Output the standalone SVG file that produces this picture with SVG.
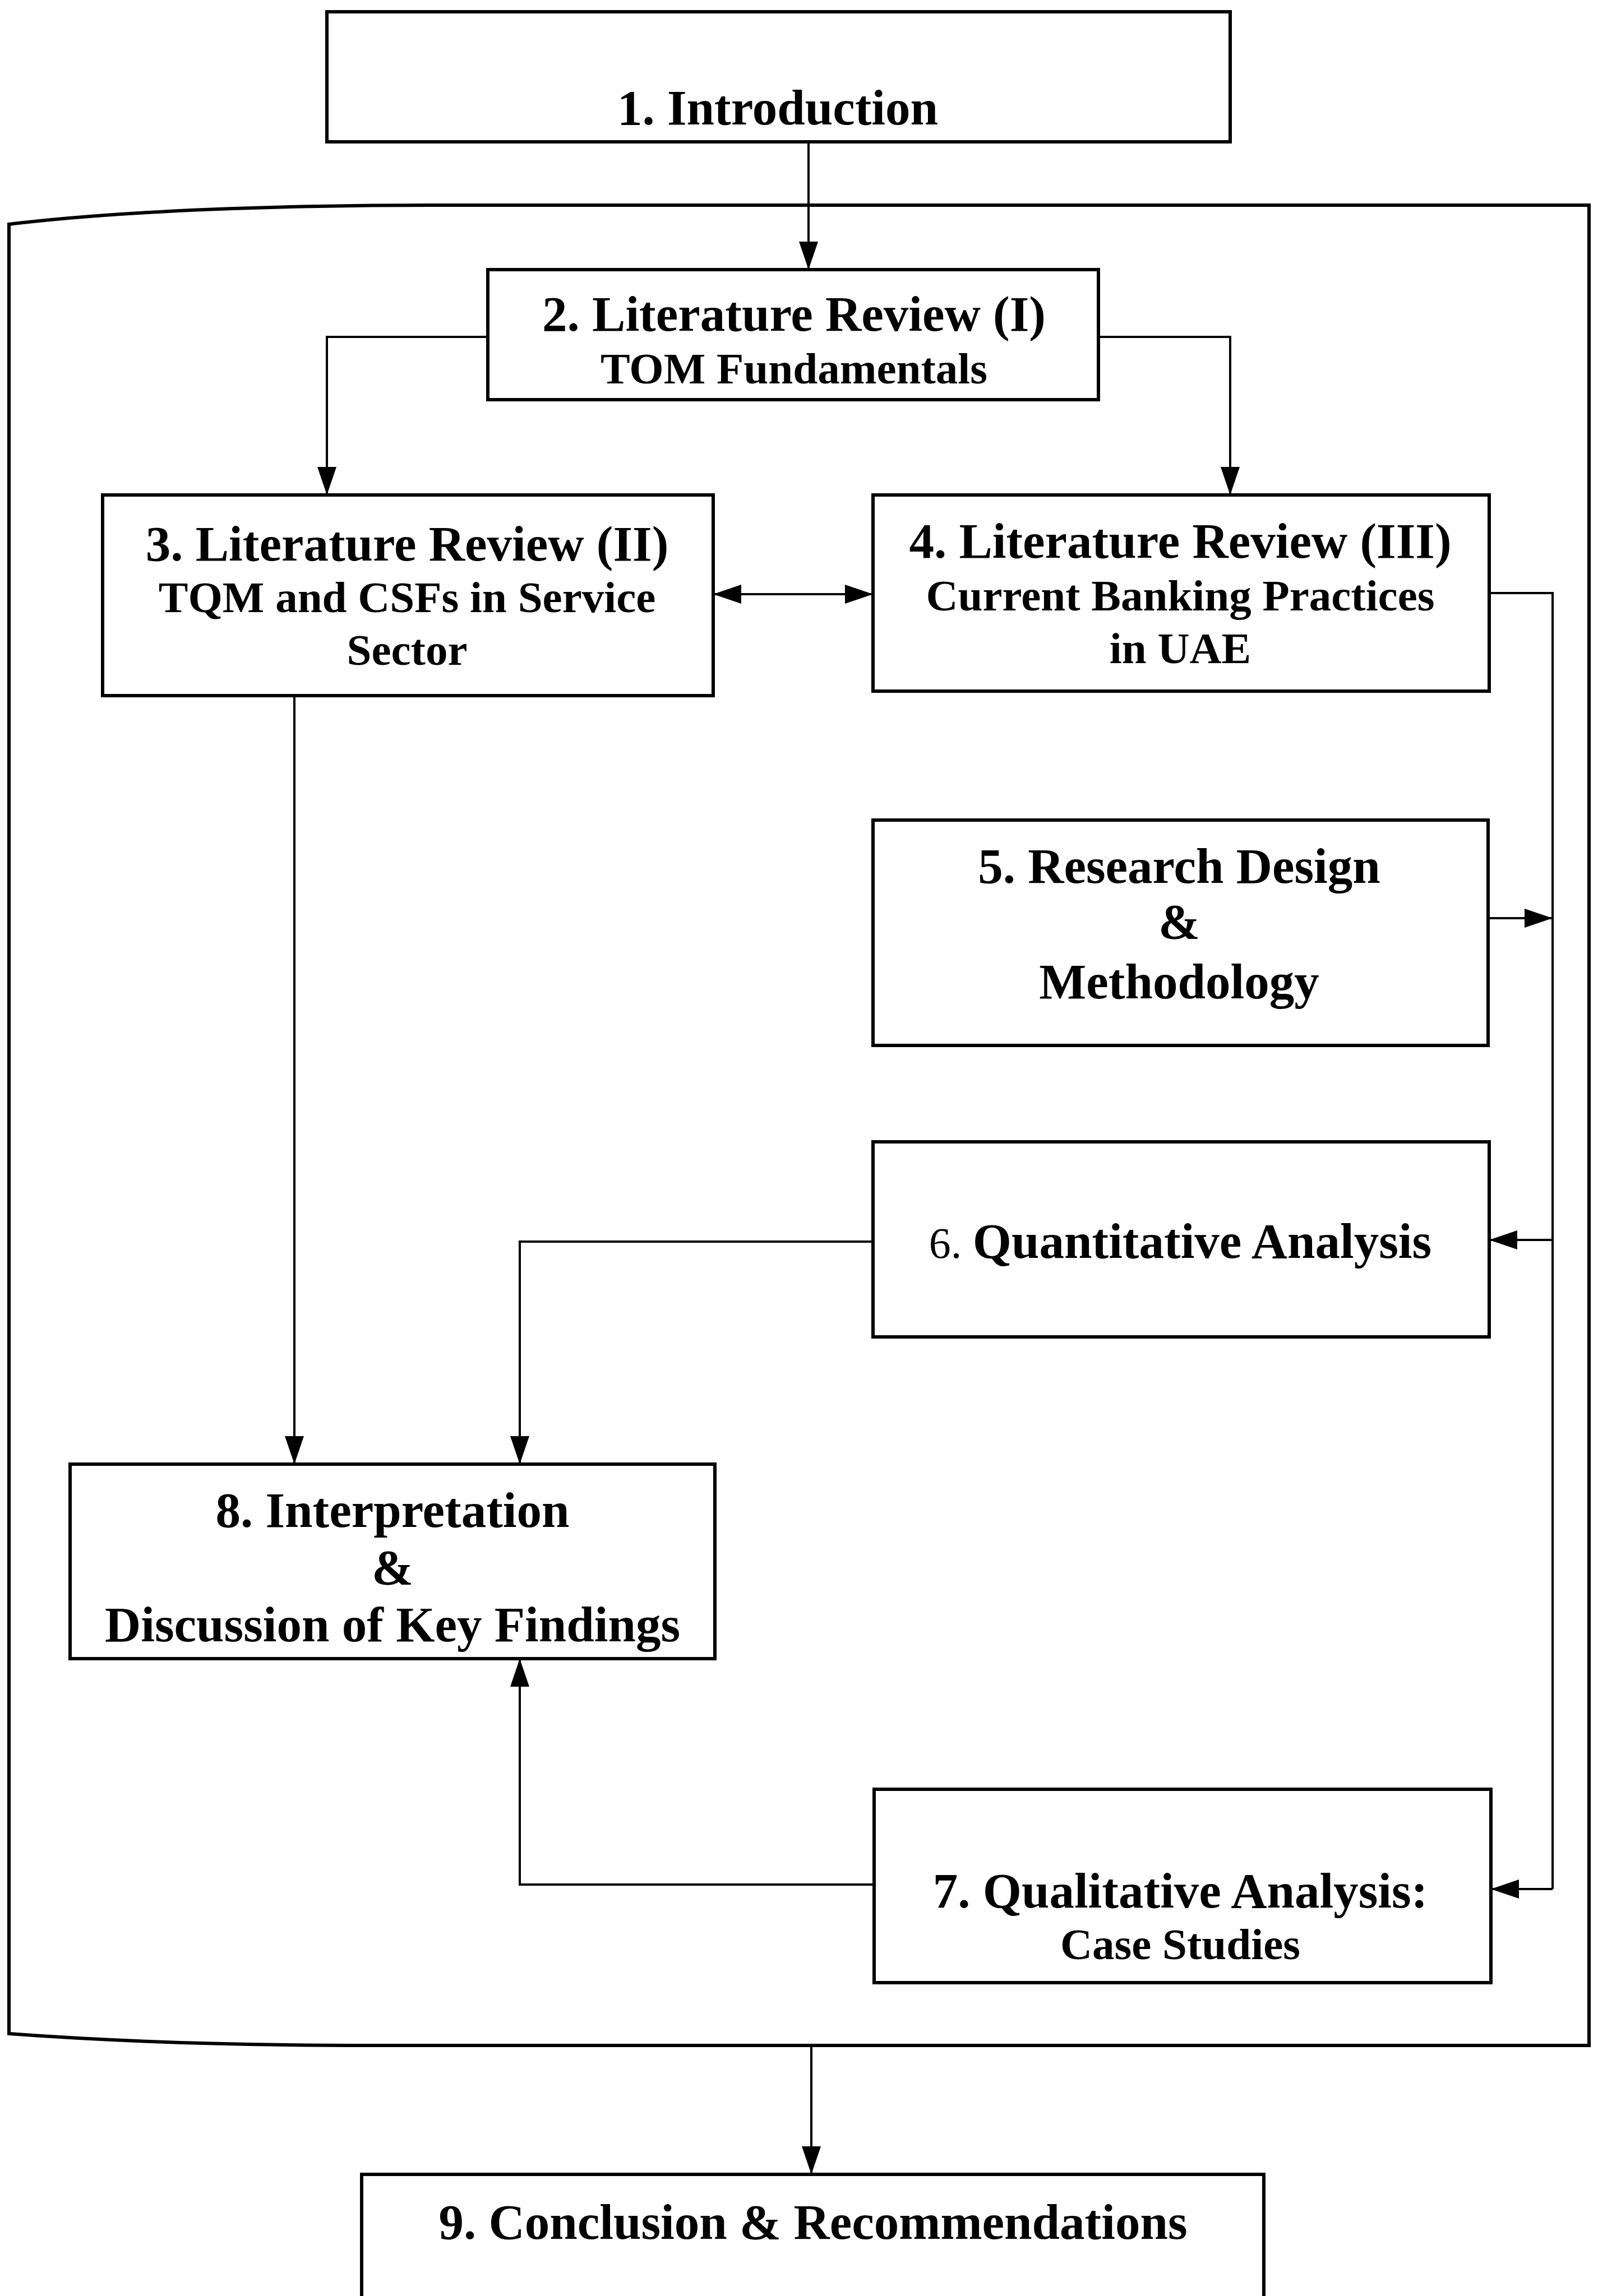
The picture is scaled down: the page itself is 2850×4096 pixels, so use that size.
<svg xmlns="http://www.w3.org/2000/svg" width="2850" height="4096" viewBox="0 0 2850 4096">
<style>
.box{fill:#fff;stroke:#000;stroke-width:6}
.frame{fill:none;stroke:#000;stroke-width:6}
.con{fill:none;stroke:#000;stroke-width:4}
.t{font-family:"Liberation Serif","Times New Roman",serif;font-weight:bold;font-size:89px;text-anchor:middle;fill:#000}
.s{font-size:79px}
.r{font-weight:normal;font-size:78px}
</style>
<defs>
<marker id="ah" markerUnits="userSpaceOnUse" markerWidth="50" markerHeight="34" refX="50" refY="17" orient="auto-start-reverse" viewBox="0 0 50 34">
<path d="M0,0 L50,17 L0,34 Z" fill="#000"/>
</marker>
</defs>
<rect width="2850" height="4096" fill="#fff"/>
<g id="frame">
<path class="frame" d="M16,3628 L16,400 Q300,366 800,366 L2834,366 L2834,3649 L660,3649 Q300,3649 16,3628 Z"/>
</g>
<g id="connectors">
<path class="con" d="M1442,253 L1442,481" marker-end="url(#ah)"/>
<path class="con" d="M870,601 L583,601 L583,883" marker-end="url(#ah)"/>
<path class="con" d="M1959,601 L2194,601 L2194,883" marker-end="url(#ah)"/>
<path class="con" d="M1272,1060 L1557,1060" marker-start="url(#ah)" marker-end="url(#ah)"/>
<path class="con" d="M2656,1058 L2769,1058 L2769,3370"/>
<path class="con" d="M2654,1638 L2769,1638" marker-end="url(#ah)"/>
<path class="con" d="M2769,2212 L2656,2212" marker-end="url(#ah)"/>
<path class="con" d="M2769,3370 L2659,3370" marker-end="url(#ah)"/>
<path class="con" d="M525,1241 L525,2612" marker-end="url(#ah)"/>
<path class="con" d="M1557,2215 L927,2215 L927,2612" marker-end="url(#ah)"/>
<path class="con" d="M1559,3362 L927,3362 L927,2959" marker-end="url(#ah)"/>
<path class="con" d="M1447,3649 L1447,3879" marker-end="url(#ah)"/>
</g>
<g id="n1">
<rect class="box" x="583" y="21" width="1611" height="232"/>
<text class="t" x="1387" y="222">1. Introduction</text>
</g>
<g id="n2">
<rect class="box" x="870" y="481" width="1089" height="232"/>
<text class="t" x="1416" y="590">2. Literature Review (I)</text>
<text class="t s" x="1416" y="684">TOM Fundamentals</text>
</g>
<g id="n3">
<rect class="box" x="183" y="883" width="1089" height="358"/>
<text class="t" x="726" y="1000">3. Literature Review (II)</text>
<text class="t s" x="726" y="1092">TQM and CSFs in Service</text>
<text class="t s" x="726" y="1186">Sector</text>
</g>
<g id="n4">
<rect class="box" x="1557" y="883" width="1099" height="350"/>
<text class="t" x="2105" y="995">4. Literature Review (III)</text>
<text class="t s" x="2105" y="1089">Current Banking Practices</text>
<text class="t s" x="2105" y="1183">in UAE</text>
</g>
<g id="n5">
<rect class="box" x="1557" y="1463" width="1097" height="402"/>
<text class="t" x="2103" y="1575">5. Research Design</text>
<text class="t" x="2103" y="1674">&amp;</text>
<text class="t" x="2103" y="1781">Methodology</text>
</g>
<g id="n6">
<rect class="box" x="1557" y="2037" width="1099" height="348"/>
<text class="t" x="2105" y="2244"><tspan class="r">6. </tspan>Quantitative Analysis</text>
</g>
<g id="n7">
<rect class="box" x="1559" y="3192" width="1100" height="345"/>
<text class="t" x="2105" y="3403">7. Qualitative Analysis:</text>
<text class="t s" x="2105" y="3495">Case Studies</text>
</g>
<g id="n8">
<rect class="box" x="125" y="2612" width="1150" height="347"/>
<text class="t" x="700" y="2724">8. Interpretation</text>
<text class="t" x="700" y="2826">&amp;</text>
<text class="t" x="700" y="2928">Discussion of Key Findings</text>
</g>
<g id="n9">
<rect class="box" x="645" y="3879" width="1609" height="260"/>
<text class="t" x="1450" y="3994">9. Conclusion &amp; Recommendations</text>
</g>
</svg>
